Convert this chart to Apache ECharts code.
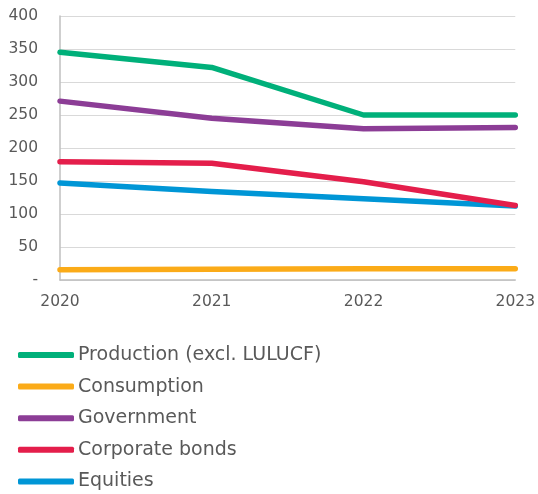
<!DOCTYPE html>
<html><head><meta charset="utf-8">
<script src="https://cdn.jsdelivr.net/npm/echarts@6/dist/echarts.min.js"></script>
<style>html,body{margin:0;padding:0;background:#fff}#c{width:538px;height:494px}</style>
</head><body><div id="c"></div>
<script>
const years = ['2020','2021','2022','2023'];
const production = [345, 322, 250, 250];
const consumption = [15.5, 16.3, 17, 17];
const government = [271, 245, 229, 231];
const corporateBonds = [179, 177, 149, 113];
const equities = [147, 134, 123, 112];
const yTicks = [0, 50, 100, 150, 200, 250, 300, 350, 400];

const names = ['Production (excl. LULUCF)','Consumption','Government','Corporate bonds','Equities'];
const datas = [production, consumption, government, corporateBonds, equities];
const colors = ['#00b07a','#fbab18','#8c3d96','#e41e4b','#0096d6'];
const font = '"DejaVu Sans", Verdana, sans-serif';

const chart = echarts.init(document.getElementById('c'), null, {renderer:'canvas'});
chart.setOption({
  animation:false,
  grid:{left:60,right:22,top:16,bottom:214,containLabel:false},
  xAxis:{type:'category',data:years,boundaryGap:false,
    axisLine:{lineStyle:{color:'#bfbfbf',width:1.5}},axisTick:{show:false},
    axisLabel:{color:'#595959',fontSize:15.5,fontFamily:font,margin:14,
      alignMinLabel:'center',alignMaxLabel:'center'},
    splitLine:{show:false}},
  yAxis:{type:'value',min:yTicks[0],max:yTicks[yTicks.length-1],interval:50,
    axisLine:{show:true,lineStyle:{color:'#bfbfbf',width:1.5}},axisTick:{show:false},
    axisLabel:{color:'#595959',fontSize:15.5,fontFamily:font,margin:22,
      formatter:v=> v===0?'-':String(v)},
    splitLine:{lineStyle:{color:'#d9d9d9',width:1}}},
  legend:{orient:'vertical',left:13,top:340,height:170,itemWidth:56,itemHeight:6,itemGap:11.6,
    icon:'roundRect',
    textStyle:{color:'#595959',fontSize:19,lineHeight:20,fontFamily:font,padding:[0,0,0,-1]},
    data:names},
  series:names.map((n,i)=>({name:n,type:'line',data:datas[i],showSymbol:false,symbol:'none',
    lineStyle:{width:5.5,color:colors[i],cap:'round',join:'round'},itemStyle:{color:colors[i]},
    z: 10 - i}))
});
</script></body></html>
